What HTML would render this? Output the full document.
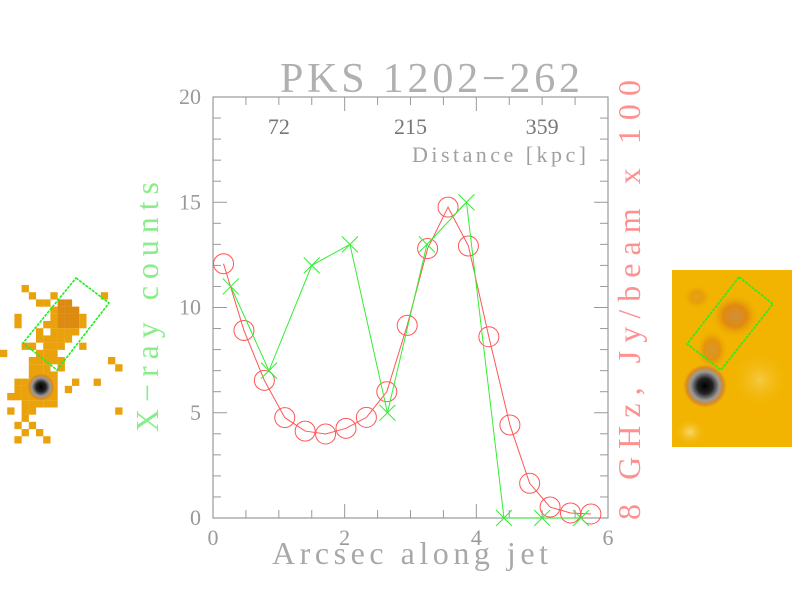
<!DOCTYPE html>
<html><head><meta charset="utf-8"><style>
html,body{margin:0;padding:0;background:#fff;}
svg{display:block;font-family:"Liberation Serif",serif;}
</style></head><body>
<svg width="792" height="612" viewBox="0 0 792 612">
<defs>
<radialGradient id="core" cx="0.5" cy="0.5" r="0.5"><stop offset="0" stop-color="#000"/><stop offset="0.35" stop-color="#222"/><stop offset="0.65" stop-color="#999"/><stop offset="0.85" stop-color="#d98a20"/><stop offset="1" stop-color="#e9a010" stop-opacity="0"/></radialGradient>
<radialGradient id="blob" cx="0.5" cy="0.5" r="0.5"><stop offset="0" stop-color="#d0903a"/><stop offset="0.5" stop-color="#e08a10"/><stop offset="1" stop-color="#f0b000" stop-opacity="0"/></radialGradient>
<radialGradient id="lite" cx="0.5" cy="0.5" r="0.5"><stop offset="0" stop-color="#f8d870"/><stop offset="1" stop-color="#f2b400" stop-opacity="0"/></radialGradient>
</defs>
<g id="leftimg"></g>
<g id="rightimg">
<rect x="672" y="270" width="120" height="177" fill="#f2b400"/>
<ellipse cx="735" cy="316" rx="24" ry="22" fill="url(#blob)"/>
<ellipse cx="712" cy="350" rx="16" ry="20" fill="url(#blob)" opacity="0.8"/>
<ellipse cx="697" cy="297" rx="14" ry="12" fill="url(#blob)" opacity="0.5"/>
<ellipse cx="760" cy="380" rx="30" ry="30" fill="url(#lite)" opacity="0.6"/>
<ellipse cx="690" cy="432" rx="16" ry="14" fill="url(#lite)"/>
<circle cx="705" cy="386" r="22" fill="url(#core)"/>
<polygon points="739,277 773,304 721,370 687,344" fill="none" stroke="#22ee22" stroke-width="1.6" stroke-dasharray="3,1"/>
</g>
<g id="chart"></g>
<text x="430" y="92" font-size="42" fill="#b0b0b0" text-anchor="middle" textLength="300" lengthAdjust="spacing">PKS 1202−262</text>
<text x="410" y="564" font-size="32" fill="#a8a8a8" text-anchor="middle" textLength="276" lengthAdjust="spacing">Arcsec along jet</text>
<text transform="translate(158,307) rotate(-90)" font-size="32" fill="#88ee88" text-anchor="middle" textLength="250" lengthAdjust="spacing">X−ray counts</text>
<text transform="translate(640,300) rotate(-90)" font-size="32" fill="#ff9090" text-anchor="middle" textLength="440" lengthAdjust="spacing">8 GHz, Jy/beam x 100</text>
<text x="586" y="162" font-size="22" fill="#a0a0a0" text-anchor="end" textLength="174" lengthAdjust="spacing">Distance [kpc]</text>
</svg>
<script>
const xrayX=[0.27,0.85,1.5,2.08,2.65,3.25,3.85,4.42,5.0,5.59];
const xrayY=[11,7,12,13,5,13,15,0,0,0];
const radioX=[0.16,0.47,0.78,1.09,1.40,1.71,2.02,2.33,2.64,2.95,3.26,3.57,3.88,4.19,4.51,4.81,5.12,5.43,5.74];
const radioY=[12.08,8.91,6.54,4.77,4.13,3.99,4.26,4.78,6.0,9.15,12.8,14.77,12.92,8.61,4.42,1.65,0.52,0.24,0.19];
const xTicks=[0,2,4,6];
const yTicks=[0,5,10,15,20];
const kpcTicks=[{v:1,l:"72"},{v:3,l:"215"},{v:5,l:"359"}];
const NS='http://www.w3.org/2000/svg';
const L=213,R=608,T=97,B=518;
const sx=v=>L+(R-L)*v/6, sy=v=>B-(B-T)*v/20;
function mk(tag,at,parent){const e=document.createElementNS(NS,tag);for(const k in at)e.setAttribute(k,at[k]);parent.appendChild(e);return e;}
const g=document.getElementById('chart');
const ax=mk('rect',{x:L,y:T,width:R-L,height:B-T,fill:'none',stroke:'#999','stroke-width':1.2},g);


for(let i=0;i<=12;i++){const x=sx(i*0.5),len=(i%4==0)?14:8;
 const t1=mk('line',{x1:x,y1:B,x2:x,y2:B-len,stroke:'#999'},g);
 
 
 const t2=mk('line',{x1:x,y1:T,x2:x,y2:T+len,stroke:'#999'},g);
 
 }
for(let i=0;i<=20;i++){const y=sy(i),len=(i%5==0)?14:8;
 const t1=mk('line',{x1:L,y1:y,x2:L+len,y2:y,stroke:'#999'},g);
 
 
 const t2=mk('line',{x1:R,y1:y,x2:R-len,y2:y,stroke:'#999'},g);
 
 }
xTicks.forEach(v=>{const t=mk('text',{x:sx(v),y:B+27,'font-size':22,fill:'#999','text-anchor':'middle'},g);t.textContent=v;
 
 });
yTicks.forEach(v=>{const t=mk('text',{x:L-12,y:sy(v)+7,'font-size':22,fill:'#999','text-anchor':'end'},g);t.textContent=v;
 
 });
kpcTicks.forEach(k=>{const t=mk('text',{x:sx(k.v),y:134,'font-size':22,fill:'#777','text-anchor':'middle'},g);t.textContent=k.l;
 
 });
const rl=mk('polyline',{points:radioX.map((x,i)=>sx(x)+','+sy(radioY[i])).join(' '),fill:'none',stroke:'#ff5555','stroke-width':1},g);


radioX.forEach((x,i)=>{const c=mk('circle',{cx:sx(x),cy:sy(radioY[i]),r:10,fill:'none',stroke:'#ff5555','stroke-width':1},g);
 
 });
const xl=mk('polyline',{points:xrayX.map((x,i)=>sx(x)+','+sy(xrayY[i])).join(' '),fill:'none',stroke:'#33ee33','stroke-width':1},g);


xrayX.forEach((x,i)=>{const cx=sx(x),cy=sy(xrayY[i]),s=8;
 const p=mk('path',{d:`M${cx-s},${cy-s}L${cx+s},${cy+s}M${cx-s},${cy+s}L${cx+s},${cy-s}`,stroke:'#33ee33','stroke-width':1},g);
 
 });
const li=document.getElementById('leftimg');
const rows=[[3],[4,7,14],[5,6,8,9],[7,8,9,10],[2,7,8,9,10,11],[2,6,7,8,9,10,11],[5,7,8,9,10],[5,6,7,8,9],[3,4,6,7,8,11],[0,5,6,7],[4,5,6,7,8,15],[4,5,6,8,16],[4,5,6,7],[2,3,4,5,6,7,10,13],[2,3,4,5,6,7,9],[1,2,3,4,5,6,7],[3,4,5,6,7],[1,3,4,16],[3],[2,4],[3,5],[2,6]];
rows.forEach((cols,j)=>cols.forEach(i=>{const dark=(i>=8&&i<=10&&j>=2&&j<=5);
 const r=mk('rect',{x:i*7.2,y:285+j*7.2,width:7.3,height:7.3,fill:dark?'#dc8a10':'#eaa20c'},li);
 
 }));
const core=mk('circle',{cx:41,cy:387,r:14,fill:'url(#core)'},li);


const bx=mk('polygon',{points:'76,278 109,303 57,370 23,343',fill:'none',stroke:'#22ee22','stroke-width':1.6,'stroke-dasharray':'3,1'},li);


</script>
</body></html>
